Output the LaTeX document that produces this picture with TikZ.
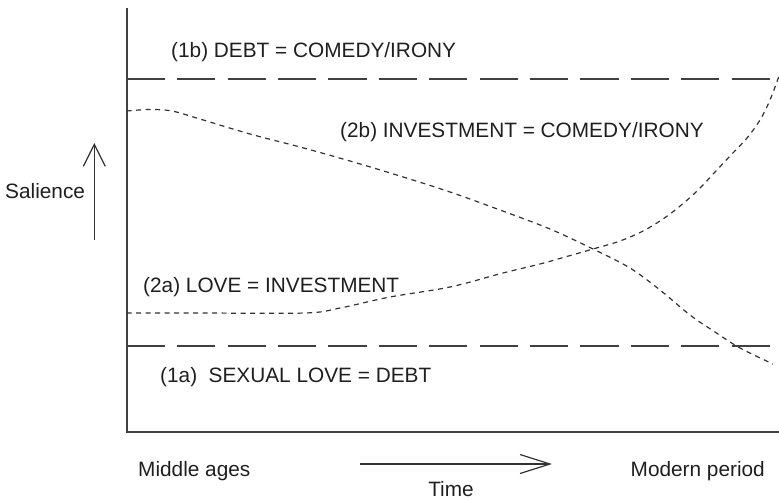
\documentclass[tikz,border=0pt]{standalone}
\usepackage{fontspec}
\setmainfont{Liberation Sans}
\usetikzlibrary{arrows.meta}
\begin{document}
\begin{tikzpicture}[x=1pt,y=-1pt,
  lbl/.style={anchor=base west,inner sep=0pt,text=black!88,font=\fontsize{20.8}{25}\selectfont},
  axisline/.style={draw=black!75,line width=1.6pt},
  level/.style={draw=black!75,line width=1.4pt,dash pattern=on 38.3pt off 12.1pt},
  trend/.style={draw=black!80,line width=1.2pt,dash pattern=on 5pt off 4.5pt},
  pointer/.style={draw=black!80,line width=1.2pt,-{Straight Barb[length=22pt,width=22pt]}},
  timepointer/.style={draw=black!80,line width=1.2pt,-{Straight Barb[length=30pt,width=19pt]}}
]
\useasboundingbox (0,0) rectangle (779,501);

% axes
\coordinate (ytop) at (126.7,8);
\coordinate (orig) at (126.7,432);
\coordinate (xend) at (779,432);
\draw[axisline] (ytop) -- (orig) -- (xend);

% fixed levels
\coordinate (hiL) at (126.7,79);
\coordinate (hiR) at (770,79);
\coordinate (loL) at (126.7,346);
\coordinate (loR) at (770,346);
\draw[level] (hiL) -- (hiR);
\draw[level] (loL) -- (loR);

% falling trend
\draw[trend] plot[smooth,tension=0.55] coordinates {
  (126.7,111) (150,109.5) (172,111) (200,119) (250,134) (300,147) (350,161)
  (400,176) (450,192) (500,210) (550,229) (593,249) (630,268) (660,290)
  (690,315) (715,332) (740,348) (773,364)};

% rising trend
\draw[trend] plot[smooth,tension=0.55] coordinates {
  (126.7,313) (200,313) (305,313) (340,308) (390,297) (450,287) (503,273)
  (540,264) (565,257) (593,249) (620,241) (645,230) (670,214) (695,193)
  (715,172) (730,156) (747,138) (760,120) (770,100) (779,76)};

% labels
\node[lbl] (l1b) at (171,57) {(1b) DEBT = COMEDY/IRONY};
\node[lbl] (l2b) at (340,137) {(2b) INVESTMENT = COMEDY/IRONY};
\node[lbl] (l2a) at (143,292) {(2a) LOVE = INVESTMENT};
\node[lbl] (l1a) at (160,382) {(1a)\ \ SEXUAL LOVE = DEBT};
\node[lbl] (sal) at (5,198) {Salience};
\node[lbl] (mid) at (138,476) {Middle ages};
\node[lbl,anchor=base east] (mod) at (765,476) {Modern period};
\node[lbl,anchor=base] (time) at (451,496) {Time};

% direction arrows
\coordinate (sA) at (94.3,240);
\coordinate (sB) at (94.3,143);
\draw[pointer] (sA) -- (sB);
\coordinate (tA) at (360,464);
\coordinate (tB) at (552,464);
\draw[timepointer] (tA) -- (tB);
\end{tikzpicture}
\end{document}
